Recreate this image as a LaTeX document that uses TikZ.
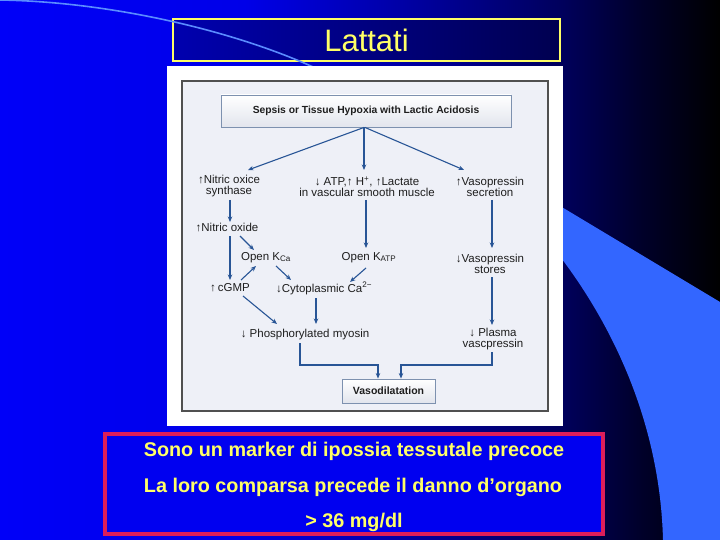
\documentclass[tikz,border=0pt]{standalone}
\usepackage{fontspec}
\setmainfont{Liberation Sans}
\usetikzlibrary{arrows.meta}
\definecolor{bgA}{RGB}{0,0,248}
\definecolor{bgB}{RGB}{0,0,232}
\definecolor{bgC}{RGB}{0,0,165}
\definecolor{bgD}{RGB}{0,0,92}
\definecolor{bgE}{RGB}{0,0,42}
\definecolor{swooshc}{RGB}{51,102,255}
\definecolor{arcc}{RGB}{90,140,255}
\definecolor{ylw}{RGB}{255,255,102}
\definecolor{tA}{RGB}{0,0,175}
\definecolor{tB}{RGB}{0,0,80}
\definecolor{crim}{RGB}{220,30,90}
\definecolor{boxblue}{RGB}{0,0,240}
\definecolor{framebg}{RGB}{238,240,247}
\definecolor{frameb}{RGB}{80,80,80}
\definecolor{boxb}{RGB}{125,145,175}
\definecolor{boxg}{RGB}{226,229,237}
\definecolor{txt}{RGB}{30,30,30}
\definecolor{arrc}{RGB}{40,85,150}
\pgfdeclarehorizontalshading{bgshade}{100bp}{color(0bp)=(bgA); color(25bp)=(bgA); color(42bp)=(bgB); color(53bp)=(bgC); color(64bp)=(bgD); color(69.5bp)=(bgE); color(75bp)=(black); color(100bp)=(black)}
\newcommand{\myup}{↑}
\newcommand{\mydn}{↓}
\tikzset{
  lbl/.style={font=\fontsize{11.5}{11}\selectfont, text=txt, align=center, inner sep=0pt},
  one/.style={lbl, text height=8pt, text depth=2pt},
  arr/.style={draw=arrc, line width=1.1pt, -{Stealth[length=5.5pt,width=4.5pt]}},
  gbox/.style={draw=boxb, line width=0.9pt, top color=white, bottom color=boxg, text=txt, inner sep=0pt},
  tbox/.style={draw=ylw, line width=2.8pt, left color=tA, right color=tB, text=ylw, font=\fontsize{31}{31}\selectfont, minimum width=387pt, minimum height=42pt, inner sep=0pt},
  bbox/.style={draw=crim, line width=3.5pt, fill=boxblue, minimum width=498pt, minimum height=100pt},
  btxt/.style={text=ylw, font=\bfseries\fontsize{19.8}{20}\selectfont, text height=14pt, text depth=4pt, inner sep=0pt}
}
\begin{document}
\begin{tikzpicture}[x=1pt,y=-1pt]
\useasboundingbox (0,0) rectangle (720,540);
% background
\shade[shading=bgshade] (0,0) rectangle (720,540);
\fill[swooshc] (555,203) -- (720,302) -- (720,540) -- (663,540) .. controls (660,420) and (610,320) .. (555,250) -- cycle;
% title
\node[tbox] (title) at (366.5,40) {Lattati};
\draw[arcc, line width=1.6pt] (0,0) .. controls (120,2) and (250,35) .. (330,75);
% panel
\fill[white] (167,66) rectangle (563,426);
\draw[fill=framebg, draw=frameb, line width=1.3pt] (182,81) rectangle (548,411);
% diagram nodes
\node[gbox, minimum width=290pt, minimum height=32pt, font=\bfseries\fontsize{10.3}{12}\selectfont] (top) at (366,111) {Sepsis or Tissue Hypoxia with Lactic Acidosis};
\node[lbl] (nos) at (229,186.5) {\myup Nitric oxice\\synthase};
\node[lbl] (atp) at (367,186.5) {\mydn\ ATP,\myup\ H\textsuperscript{+}, \myup Lactate\\in vascular smooth muscle};
\node[lbl] (vps) at (490,186.5) {\myup Vasopressin\\secretion};
\node[one] (no) at (227,228) {\myup Nitric oxide};
\node[one] (kca) at (266,257) {Open K\textsubscript{Ca}};
\node[one] (katp) at (369,257) {Open K\textsubscript{ATP}};
\node[lbl] (vst) at (490,263.5) {\mydn Vasopressin\\stores};
\node[one] (cgmp) at (230,288) {\myup\,cGMP};
\node[one] (cyto) at (324,289) {\mydn Cytoplasmic Ca\textsuperscript{2−}};
\node[one] (phos) at (305,334) {\mydn\ Phosphorylated myosin};
\node[lbl] (pla) at (493,339.5) {\mydn\ Plasma\\vascpressin};
\node[gbox, minimum width=93pt, minimum height=24pt, font=\bfseries\fontsize{10.5}{12}\selectfont] (vaso) at (388.5,391) {Vasodilatation};
% connectors
\draw[arr] ([xshift=-2pt]top.south) -- ([xshift=19pt,yshift=16.5pt]nos.center);
\draw[arr] ([xshift=-2pt]top.south) -- ([xshift=-3pt,yshift=16.5pt]atp.center);
\draw[arr] ([xshift=-1pt]top.south) -- ([xshift=-26pt,yshift=16.5pt]vps.center);
\draw[arr] ([xshift=1pt,yshift=-13.5pt]nos.center) -- ([xshift=3pt,yshift=6pt]no.center);
\draw[arr] ([xshift=3pt,yshift=-8pt]no.center) -- ([yshift=8pt]cgmp.center);
\draw[arr] ([xshift=13pt,yshift=-8pt]no.center) -- ([xshift=-12pt,yshift=7pt]kca.center);
\draw[arr] ([xshift=11pt,yshift=8pt]cgmp.center) -- ([xshift=-10pt,yshift=-9pt]kca.center);
\draw[arr] ([xshift=10pt,yshift=-9pt]kca.center) -- ([xshift=-33pt,yshift=9pt]cyto.center);
\draw[arr] ([xshift=-1pt,yshift=-13.5pt]atp.center) -- ([xshift=-3pt,yshift=9pt]katp.center);
\draw[arr] ([xshift=-3pt,yshift=-11pt]katp.center) -- ([xshift=26pt,yshift=7pt]cyto.center);
\draw[arr] ([xshift=2pt,yshift=-13.5pt]vps.center) -- ([xshift=2pt,yshift=15.5pt]vst.center);
\draw[arr] ([xshift=13pt,yshift=-8pt]cgmp.center) -- ([xshift=-28pt,yshift=10pt]phos.center);
\draw[arr] ([xshift=-8pt,yshift=-9pt]cyto.center) -- ([xshift=11pt,yshift=10pt]phos.center);
\draw[arr] ([xshift=2pt,yshift=-13.5pt]vst.center) -- ([xshift=-1pt,yshift=14.5pt]pla.center);
\draw[arr] ([xshift=-5pt,yshift=-9pt]phos.center) -- ++(0,22) -| ([xshift=-10.5pt]vaso.north);
\draw[arr] ([xshift=-1pt,yshift=-12.5pt]pla.center) -- ++(0,13) -| ([xshift=12.5pt]vaso.north);
% bottom box
\node[bbox] (bottom) at (354,484) {};
\node[btxt] (l1) at (354,451) {Sono un marker di ipossia tessutale precoce};
\node[btxt] (l2) at (353,487) {La loro comparsa precede il danno d’organo};
\node[btxt] (l3) at (354,522) {> 36 mg/dl};
\end{tikzpicture}
\end{document}
